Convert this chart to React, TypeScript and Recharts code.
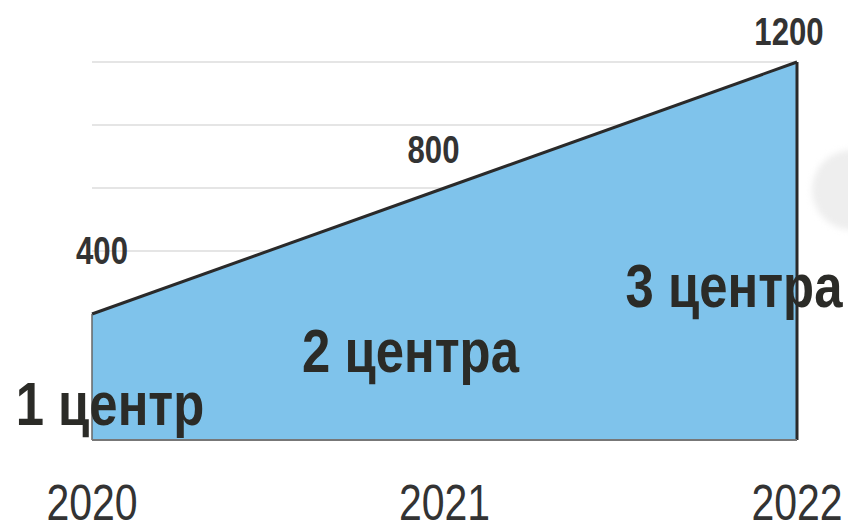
import React from 'react';
import { AreaChart, Area, XAxis, YAxis, CartesianGrid, LabelList, ReferenceLine } from 'recharts';

const years = ['2020', '2021', '2022'];
const values = [400, 800, 1200];
const centers = ['1 центр', '2 центра', '3 центра'];
const yTicks = [0, 200, 400, 600, 800, 1000, 1200];

const data = years.map((y, i) => ({ year: y, value: values[i], center: centers[i] }));

const FONT = '"Liberation Sans", Arial, sans-serif';
const NARROW = 0.82;

// label placement offsets (style, not data)
const valueDx = [10, -11, -8];
const valueDy = [-50, -25, -17];
const centerDx = [18, -34, -63];
const centerBaseDy = [-15, -68, -133];

const NarrowText = ({ x, y, size, weight, fill, children }: any) => (
  <g transform={`translate(${x},${y}) scale(${NARROW},1)`}>
    <text x={0} y={0} textAnchor="middle" fontFamily={FONT} fontWeight={weight} fontSize={size} fill={fill}>
      {children}
    </text>
  </g>
);

const ValueLabel = (props: any) => {
  const { x, y, value, index } = props;
  return (
    <NarrowText x={x + valueDx[index]} y={y + valueDy[index]} size={38} weight="bold" fill="#333">
      {value}
    </NarrowText>
  );
};

const CenterLabel = (props: any) => {
  const { x, value, index } = props;
  const baseY = 440;
  return (
    <NarrowText x={x + centerDx[index]} y={baseY + centerBaseDy[index]} size={62} weight="bold" fill="#2b2b27">
      {value}
    </NarrowText>
  );
};

const YearTick = (props: any) => {
  const { x, y, payload } = props;
  return (
    <NarrowText x={x} y={y + 36} size={50} weight="normal" fill="#333">
      {payload.value}
    </NarrowText>
  );
};

export default function App() {
  return (
    <div style={{ position: 'absolute', left: 0, top: 0, width: 848, height: 525, background: '#fff', overflow: 'hidden' }}>
      <div style={{ position: 'absolute', left: 812, top: 150, width: 80, height: 80, borderRadius: 40, background: '#eeeeee', filter: 'blur(3px)' }} />
      <AreaChart width={848} height={525} data={data} margin={{ top: 62, right: 51, bottom: 25, left: 92 }}>
        <CartesianGrid vertical={false} stroke="#dddddd" strokeWidth={1.5} />
        <XAxis
          dataKey="year"
          height={60}
          tickSize={0}
          tickMargin={44}
          axisLine={{ stroke: '#777', strokeWidth: 2 }}
          tickLine={false}
          tick={<YearTick />}
        />
        <YAxis hide domain={[0, 1200]} ticks={yTicks} />
        <Area
          type="linear"
          dataKey="value"
          stroke="#2a2a2a"
          strokeWidth={3}
          fill="#7fc3eb"
          fillOpacity={1}
          isAnimationActive={false}
        >
          <LabelList dataKey="value" content={<ValueLabel />} />
          <LabelList dataKey="center" content={<CenterLabel />} />
        </Area>
        <ReferenceLine segment={[{ x: '2020', y: 0 }, { x: '2020', y: 400 }]} stroke="#666" strokeWidth={1.5} />
        <ReferenceLine segment={[{ x: '2022', y: 0 }, { x: '2022', y: 1200 }]} stroke="#2a2a2a" strokeWidth={3} />
      </AreaChart>
    </div>
  );
}
